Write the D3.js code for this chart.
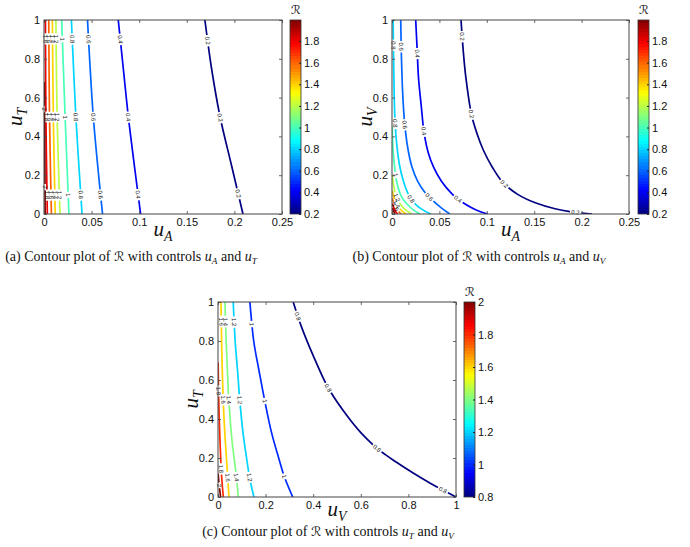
<!DOCTYPE html>
<html><head><meta charset="utf-8">
<script src="https://cdn.jsdelivr.net/npm/d3@7"></script>
<style>body{margin:0;background:#fff}svg{display:block}</style>
</head><body>
<svg id="chart" width="690" height="547"></svg>
<script>
// ---------- DATA ----------
const aXTicks = [0, 0.05, 0.1, 0.15, 0.2, 0.25];
const aYTicks = [0, 0.2, 0.4, 0.6, 0.8, 1];
const aColorTicks = [0.2, 0.4, 0.6, 0.8, 1, 1.2, 1.4, 1.6, 1.8];
const aColorRange = [0.2, 1.995];
const aLevels = [0.2, 0.4, 0.6, 0.8, 1.0, 1.2, 1.4, 1.6, 1.8, 2.0];
const aLines = [
  [[0.169,1],[0.176,0.75],[0.185,0.5],[0.197,0.25],[0.209,0]],
  [[0.078,1],[0.0833,0.75],[0.0886,0.5],[0.0949,0.25],[0.1015,0]],
  [[0.0457,1],[0.0518,0.5],[0.0615,0]],
  [[0.0288,1],[0.0335,0.5],[0.0400,0]],
  [[0.0186,1],[0.0222,0.5],[0.0262,0]],
  [[0.0125,1],[0.0138,0.5],[0.0168,0]],
  [[0.0088,1],[0.0098,0.5],[0.0118,0]],
  [[0.0050,1],[0.0058,0.5],[0.0078,0]],
  [[0.0015,1],[0.0020,0.5],[0.0035,0]],
  [[0.0003,0.68],[0.0008,0.35],[0.0012,0]]
];

const bXTicks = [0, 0.05, 0.1, 0.15, 0.2, 0.25];
const bYTicks = [0, 0.2, 0.4, 0.6, 0.8, 1];
const bColorTicks = [0.2, 0.4, 0.6, 0.8, 1, 1.2, 1.4, 1.6, 1.8];
const bColorRange = [0.2, 1.995];
const bLevels = [0.2, 0.4, 0.6, 0.8, 1.0, 1.2, 1.4, 1.6, 1.8, 2.0];
const bLines = [
  [[0.0728,1],[0.075,0.85],[0.078,0.7],[0.084,0.51],[0.090,0.41],[0.0963,0.33],[0.106,0.24],[0.1175,0.16],[0.133,0.1],[0.1526,0.055],[0.172,0.027],[0.191,0.01],[0.211,0]],
  [[0.025,1],[0.0265,0.85],[0.028,0.7],[0.031,0.55],[0.0338,0.42],[0.038,0.32],[0.044,0.24],[0.052,0.17],[0.062,0.11],[0.072,0.068],[0.083,0.035],[0.092,0.014],[0.101,0]],
  [[0.0092,1],[0.010,0.8],[0.0115,0.6],[0.0137,0.45],[0.017,0.33],[0.021,0.244],[0.027,0.17],[0.035,0.11],[0.044,0.065],[0.053,0.028],[0.061,0]],
  [[0.0012,1],[0.002,0.7],[0.003,0.5],[0.005,0.36],[0.008,0.25],[0.012,0.17],[0.016,0.115],[0.020,0.078],[0.026,0.045],[0.033,0.02],[0.041,0]],
  [[0.0003,0.45],[0.001,0.34],[0.003,0.23],[0.0055,0.155],[0.010,0.09],[0.016,0.05],[0.023,0.02],[0.0295,0]],
  [[0.0003,0.2],[0.003,0.115],[0.007,0.065],[0.012,0.032],[0.017,0.012],[0.021,0]],
  [[0.0003,0.12],[0.003,0.07],[0.007,0.035],[0.011,0.014],[0.015,0]],
  [[0.0003,0.08],[0.003,0.042],[0.006,0.02],[0.0095,0]],
  [[0.0003,0.055],[0.002,0.03],[0.004,0.012],[0.006,0]],
  [[0.0003,0.03],[0.002,0.012],[0.003,0]]
];

const cXTicks = [0, 0.2, 0.4, 0.6, 0.8, 1];
const cYTicks = [0, 0.2, 0.4, 0.6, 0.8, 1];
const cColorTicks = [0.8, 1, 1.2, 1.4, 1.6, 1.8, 2];
const cColorRange = [0.8, 2];
const cLevels = [0.8, 1.0, 1.2, 1.4, 1.6, 1.8, 2.0];
const cLines = [
  [[0.316,1],[0.35,0.875],[0.40,0.725],[0.463,0.56],[0.54,0.42],[0.60,0.33],[0.673,0.245],[0.75,0.178],[0.82,0.123],[0.89,0.072],[0.947,0.034],[1,0]],
  [[0.134,1],[0.15,0.8],[0.172,0.65],[0.197,0.49],[0.225,0.33],[0.255,0.2],[0.28,0.1],[0.314,0]],
  [[0.064,1],[0.072,0.8],[0.082,0.65],[0.092,0.49],[0.105,0.33],[0.12,0.2],[0.134,0.09],[0.151,0]],
  [[0.029,1],[0.036,0.75],[0.046,0.49],[0.058,0.3],[0.0756,0.12],[0.0854,0]],
  [[0.0126,1],[0.016,0.75],[0.022,0.49],[0.030,0.3],[0.039,0.135],[0.046,0]],
  [[0.0005,0.69],[0.003,0.5],[0.008,0.3],[0.013,0.15],[0.018,0.06],[0.0225,0]],
  [[0.0005,0.12],[0.005,0.06],[0.011,0]]
];

// ---------- HELPERS ----------
function jet(t) {
  t = Math.max(0, Math.min(1, t));
  const c = v => Math.round(255 * Math.max(0, Math.min(1, v)));
  return `rgb(${c(1.5 - Math.abs(4*t - 3))},${c(1.5 - Math.abs(4*t - 2))},${c(1.5 - Math.abs(4*t - 1))})`;
}
const svg = d3.select("#chart");
const defs = svg.append("defs");
const SANS = "'Liberation Sans', Arial, Helvetica, sans-serif";
const SERIF = "'Liberation Serif', 'Times New Roman', serif";
const CAL = "'DejaVu Serif', 'DejaVu Sans', serif";

function mathText(sel, parts, size) {
  let shifted = false;
  parts.forEach(([t, k]) => {
    const ts = sel.append("tspan").text(t);
    if (k === "i") ts.attr("font-style", "italic");
    if (k === "cal") ts.attr("font-family", CAL).attr("font-style", "italic").attr("font-size", size * 0.92);
    if (k === "sub") {
      ts.attr("font-style", "italic").attr("font-size", size * 0.66).attr("dy", size * 0.22);
      shifted = true;
    } else if (shifted) {
      ts.attr("dy", -size * 0.22);
      shifted = false;
    }
  });
}

function drawPanel(cfg, xTicks, yTicks, levels, lines, colorTicks, colorRange) {
  const g = svg.append("g");
  const x = d3.scaleLinear().domain([xTicks[0], xTicks[xTicks.length-1]]).range([cfg.l, cfg.r]);
  const y = d3.scaleLinear().domain([yTicks[0], yTicks[yTicks.length-1]]).range([cfg.b, cfg.t]);
  const col = d3.scaleLinear().domain(colorRange).range([0, 1]).clamp(true);

  const clipId = "clip" + cfg.id;
  defs.append("clipPath").attr("id", clipId).append("rect")
    .attr("x", cfg.l).attr("y", cfg.t).attr("width", cfg.r - cfg.l).attr("height", cfg.b - cfg.t);

  const lineGen = d3.line().x(d => x(d[0])).y(d => y(d[1])).curve(d3.curveCatmullRom.alpha(0.5));
  const cg = g.append("g").attr("clip-path", `url(#${clipId})`);
  const lg = g.append("g");
  lines.forEach((pts, i) => {
    const lev = levels[i];
    const path = cg.append("path").attr("d", lineGen(pts))
      .attr("fill", "none").attr("stroke", jet(col(lev))).attr("stroke-width", 1.7)
      .attr("stroke-linecap", "butt");
    const node = path.node();
    const L = node.getTotalLength();
    if (L < 18) return;
    const sp = 78;
    const k = L < 30 ? 0 : Math.max(0, Math.floor((L - 20) / sp));
    const pos = k === 0 ? [L / 2] : d3.range(k + 1).map(j => (L - k * sp) / 2 + j * sp);
    const label = String(+lev.toFixed(1));
    const dashes = [];
    let prev = 0;
    pos.forEach(p => {
      const a = node.getPointAtLength(Math.max(0, p - 1));
      const b2 = node.getPointAtLength(Math.min(L, p + 1));
      const c = node.getPointAtLength(p);
      let ang = Math.atan2(b2.y - a.y, b2.x - a.x) * 180 / Math.PI;
      if (ang > 90) ang -= 180;
      if (ang <= -90) ang += 180;
      const t = lg.append("text").attr("transform", `translate(${c.x},${c.y}) rotate(${ang})`)
        .attr("text-anchor", "middle").attr("dy", "0.35em")
        .attr("font-family", SANS).attr("font-size", 6).attr("fill", "#111").text(label);
      const w = t.node().getComputedTextLength();
      const gap = w / 2 + 1.5;
      dashes.push(Math.max(0, p - gap - prev), 2 * gap);
      prev = p + gap;
    });
    dashes.push(Math.max(0, L - prev) + 2, L + 10);
    path.attr("stroke-dasharray", dashes.join(","));
  });

  const fmt = d => String(d);
  const ax = (gen, tx, ty, o) => {
    const a = g.append("g").attr("transform", `translate(${tx},${ty})`)
      .call(gen.tickValues(o.vals).tickSize(-3).tickPadding(o.pad).tickFormat(o.show ? fmt : ""));
    a.select(".domain").remove();
    a.selectAll(".tick line").attr("stroke", "#444").attr("stroke-width", 0.8);
    a.selectAll("text").attr("font-family", SANS).attr("font-size", 11).attr("fill", "#111");
    return a;
  };
  ax(d3.axisBottom(x), 0, cfg.b, {vals: xTicks, pad: 4, show: true});
  ax(d3.axisTop(x), 0, cfg.t, {vals: xTicks, pad: 4, show: false});
  ax(d3.axisLeft(y), cfg.l, 0, {vals: yTicks, pad: 4, show: true});
  ax(d3.axisRight(y), cfg.r, 0, {vals: yTicks, pad: 4, show: false});
  g.append("rect").attr("x", cfg.l).attr("y", cfg.t).attr("width", cfg.r - cfg.l).attr("height", cfg.b - cfg.t)
    .attr("fill", "none").attr("stroke", "#444").attr("stroke-width", 1);

  const xt = g.append("text").attr("x", (cfg.l + cfg.r) / 2).attr("y", cfg.b + cfg.xlo)
    .attr("text-anchor", "middle").attr("font-family", SERIF).attr("font-size", 21).attr("fill", "#111");
  mathText(xt, [["u", "i"], [cfg.xsub, "sub"]], 21);
  const yt = g.append("text").attr("transform", `translate(${cfg.ylx},${(cfg.t + cfg.b) / 2}) rotate(-90)`)
    .attr("text-anchor", "middle").attr("font-family", SERIF).attr("font-size", 21).attr("fill", "#111");
  mathText(yt, [["u", "i"], [cfg.ysub, "sub"]], 21);

  const gradId = "grad" + cfg.id;
  const grad = defs.append("linearGradient").attr("id", gradId)
    .attr("x1", 0).attr("y1", 1).attr("x2", 0).attr("y2", 0);
  const N = 64;
  d3.range(N).forEach(i => {
    grad.append("stop").attr("offset", i / N).attr("stop-color", jet((i + 0.5) / N));
    grad.append("stop").attr("offset", (i + 1) / N).attr("stop-color", jet((i + 0.5) / N));
  });
  const cy = d3.scaleLinear().domain(colorRange).range([cfg.b, cfg.t]);
  g.append("rect").attr("x", cfg.cbl).attr("y", cfg.t).attr("width", cfg.cbr - cfg.cbl).attr("height", cfg.b - cfg.t)
    .attr("fill", `url(#${gradId})`).attr("stroke", "#333").attr("stroke-width", 0.8);
  const ca = g.append("g").attr("transform", `translate(${cfg.cbr},0)`)
    .call(d3.axisRight(cy).tickValues(colorTicks).tickSize(-2).tickPadding(3).tickFormat(fmt));
  ca.select(".domain").remove();
  ca.selectAll(".tick line").attr("stroke", "#222");
  ca.selectAll("text").attr("font-family", SANS).attr("font-size", 11).attr("fill", "#111");
  g.append("text").attr("x", (cfg.cbl + cfg.cbr) / 2).attr("y", cfg.t - 6).attr("text-anchor", "middle")
    .attr("font-family", CAL).attr("font-style", "italic").attr("font-size", 12).attr("fill", "#111").text("ℛ");

  const cap = g.append("text").attr("x", cfg.capx).attr("y", cfg.capy).attr("text-anchor", "middle")
    .attr("font-family", SERIF).attr("font-size", 14).attr("fill", "#111");
  mathText(cap, [[`(${cfg.id}) Contour plot of `, "n"], ["ℛ", "cal"], [" with controls ", "n"],
    ["u", "i"], [cfg.c1, "sub"], [" and ", "n"], ["u", "i"], [cfg.c2, "sub"]], 14);
}

drawPanel({id: "a", l: 44, r: 282, t: 20, b: 214, cbl: 290, cbr: 301, xsub: "A", ysub: "T", ylx: 22, xlo: 22,
  capx: 131, capy: 261, c1: "A", c2: "T"}, aXTicks, aYTicks, aLevels, aLines, aColorTicks, aColorRange);
drawPanel({id: "b", l: 392, r: 629, t: 20, b: 214, cbl: 638, cbr: 649, xsub: "A", ysub: "V", ylx: 372, xlo: 22,
  capx: 479, capy: 261, c1: "A", c2: "V"}, bXTicks, bYTicks, bLevels, bLines, bColorTicks, bColorRange);
drawPanel({id: "c", l: 218, r: 456, t: 302, b: 497, cbl: 464, cbr: 475, xsub: "V", ysub: "T", ylx: 198, xlo: 19,
  capx: 328, capy: 536, c1: "T", c2: "V"}, cXTicks, cYTicks, cLevels, cLines, cColorTicks, cColorRange);
</script>
</body></html>
